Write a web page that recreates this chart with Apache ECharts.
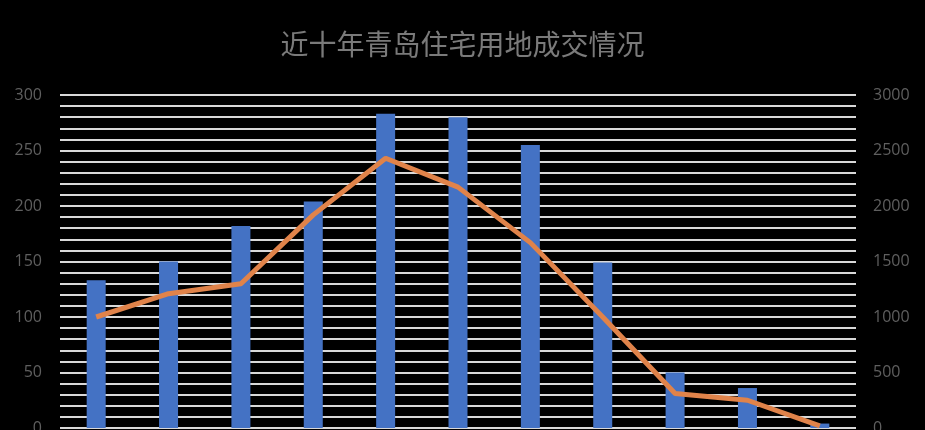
<!DOCTYPE html>
<html>
<head>
<meta charset="utf-8">
<script src="https://cdn.jsdelivr.net/npm/echarts@6/dist/echarts.min.js"></script>
<style>
html,body{margin:0;padding:0;background:#000;overflow:hidden;}
#chart{width:925px;height:430px;}
</style>
</head>
<body>
<div id="chart"></div>
<script>
const titleText = '近十年青岛住宅用地成交情况';
const categories = ['2010','2011','2012','2013','2014','2015','2016','2017','2018','2019','2020'];
const barValues = [133, 150, 182, 204, 283, 280, 255, 149, 50, 36, 4];
const lineValues = [1000, 1210, 1300, 1920, 2430, 2170, 1670, 1000, 310, 250, 20];
const leftTicks = [0, 50, 100, 150, 200, 250, 300];
const rightTicks = [0, 500, 1000, 1500, 2000, 2500, 3000];

const chart = echarts.init(document.getElementById('chart'));
chart.setOption({
  backgroundColor: '#000',
  animation: false,
  title: {
    text: titleText,
    left: 'center',
    top: 25,
    textStyle: {color: '#7a7a7a', fontSize: 28, fontWeight: 'normal', fontFamily: 'Noto Sans CJK SC'}
  },
  grid: {left: 60, right: 69, top: 95, bottom: 2, containLabel: false, outerBoundsMode: 'none'},
  xAxis: {
    type: 'category',
    data: categories,
    axisLine: {show: false},
    axisTick: {show: false},
    axisLabel: {color: '#7f7f7f', fontSize: 16}
  },
  yAxis: [
    {
      type: 'value', min: 0, max: 300, interval: 10,
      axisLine: {show: false}, axisTick: {show: false},
      axisLabel: {
        color: '#5f5f5f', fontSize: 16, margin: 18, fontFamily: 'Open Sans',
        formatter: v => leftTicks.includes(v) ? String(v) : ''
      },
      splitLine: {show: true, lineStyle: {color: '#d9d9d9', width: 2}}
    },
    {
      type: 'value', min: 0, max: 3000, interval: 100,
      axisLine: {show: false}, axisTick: {show: false},
      axisLabel: {
        color: '#5f5f5f', fontSize: 16, margin: 17, fontFamily: 'Open Sans',
        formatter: v => rightTicks.includes(v) ? String(v) : ''
      },
      splitLine: {show: false}
    }
  ],
  series: [
    {
      type: 'bar', yAxisIndex: 0, data: barValues, barWidth: 19,
      itemStyle: {color: '#4472c4'}
    },
    {
      type: 'line', yAxisIndex: 1, data: lineValues,
      symbol: 'none',
      lineStyle: {color: '#e0834a', width: 5},
      z: 3
    }
  ]
});
</script>
</body>
</html>
